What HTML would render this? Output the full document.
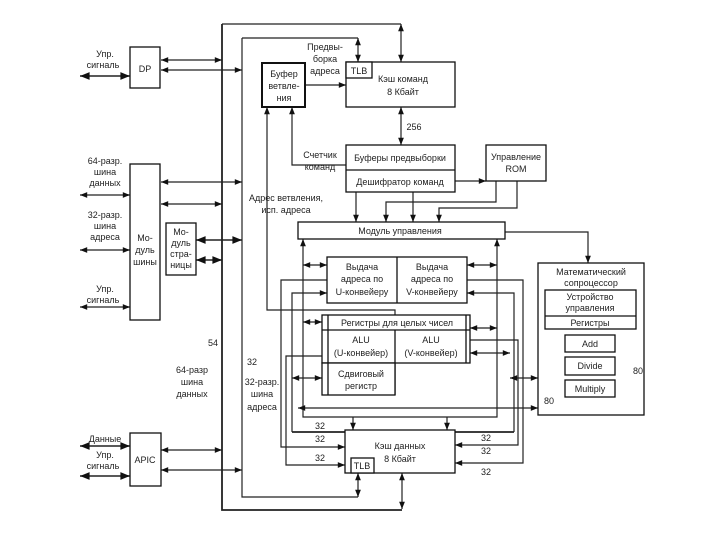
<!DOCTYPE html>
<html><head><meta charset="utf-8"><style>
html,body{margin:0;padding:0;background:#fff}
svg{display:block}
text{font-family:"Liberation Sans",sans-serif;font-size:9px;fill:#222}
</style></head><body>
<svg width="720" height="540" viewBox="0 0 720 540" xmlns="http://www.w3.org/2000/svg">
<defs>
<marker id="a" viewBox="0 0 10 10" refX="10" refY="5" markerWidth="7" markerHeight="6" orient="auto-start-reverse"><path d="M0,1L10,5L0,9z" fill="#111"/></marker>
</defs>
<g stroke="#222" stroke-width="1.2" fill="none">
<path d="M222,24V510H402" stroke-width="1.8"/>
<path d="M222,24H401"/>
<path d="M242,38V497H358"/>
<path d="M242,38H358"/>
<path d="M401,24V62" marker-start="url(#a)" marker-end="url(#a)"/>
<path d="M358,38V62" marker-start="url(#a)" marker-end="url(#a)"/>
<path d="M402,509V473" marker-end="url(#a)" marker-start="url(#a)"/>
<path d="M358,497V473" marker-end="url(#a)" marker-start="url(#a)"/>
<path d="M161,60H222" marker-start="url(#a)" marker-end="url(#a)"/>
<path d="M161,70H242" marker-start="url(#a)" marker-end="url(#a)"/>
<path d="M161,182H242" marker-start="url(#a)" marker-end="url(#a)"/>
<path d="M161,204H222" marker-start="url(#a)" marker-end="url(#a)"/>
<path d="M196,240H242" marker-start="url(#a)" marker-end="url(#a)" stroke-width="1.6"/>
<path d="M196,260H222" marker-start="url(#a)" marker-end="url(#a)" stroke-width="1.6"/>
<path d="M161,450H222" marker-start="url(#a)" marker-end="url(#a)"/>
<path d="M161,470H242" marker-start="url(#a)" marker-end="url(#a)"/>
<path d="M80,76H130" marker-start="url(#a)" marker-end="url(#a)" stroke-width="1.6"/>
<path d="M80,195H130" marker-start="url(#a)" marker-end="url(#a)"/>
<path d="M80,250H130" marker-start="url(#a)" marker-end="url(#a)"/>
<path d="M80,307H130" marker-start="url(#a)" marker-end="url(#a)"/>
<path d="M80,446H130" marker-start="url(#a)" marker-end="url(#a)" stroke-width="1.6"/>
<path d="M80,476H130" marker-start="url(#a)" marker-end="url(#a)" stroke-width="1.6"/>
<path d="M305,85H346" marker-end="url(#a)"/>
<path d="M401,107V145" marker-start="url(#a)" marker-end="url(#a)"/>
<path d="M346,165H292V107" marker-end="url(#a)"/>
<path d="M267,107V310H395V315" marker-start="url(#a)"/>
<path d="M455,181H486" marker-end="url(#a)"/>
<path d="M356,192V222" marker-end="url(#a)"/>
<path d="M413,192V222" marker-end="url(#a)"/>
<path d="M496,181V202H386V222" marker-end="url(#a)"/>
<path d="M517,181V208H439V222" marker-end="url(#a)"/>
<path d="M505,232H588V263" marker-end="url(#a)"/>
<path d="M303,239V417H497V239" marker-start="url(#a)" marker-end="url(#a)"/>
<path d="M353,417V430" marker-end="url(#a)"/>
<path d="M447,417V430" marker-end="url(#a)"/>
<path d="M303,265H327" marker-start="url(#a)" marker-end="url(#a)"/>
<path d="M467,265H497" marker-start="url(#a)" marker-end="url(#a)"/>
<path d="M303,322H322" marker-start="url(#a)" marker-end="url(#a)"/>
<path d="M470,328H497" marker-start="url(#a)" marker-end="url(#a)"/>
<path d="M327,280H281V447H345" marker-end="url(#a)"/>
<path d="M327,293H292V432" marker-start="url(#a)"/>
<path d="M292,432H345" stroke-width="1.8"/>
<path d="M322,356H286V465H345" marker-end="url(#a)"/>
<path d="M292,378H322" marker-start="url(#a)" marker-end="url(#a)"/>
<path d="M298,408H538" marker-start="url(#a)" marker-end="url(#a)"/>
<path d="M467,280H523V463H455" marker-end="url(#a)"/>
<path d="M467,293H514V432" marker-start="url(#a)"/>
<path d="M514,432H455" stroke-width="1.8"/>
<path d="M470,340H518V445H455" marker-end="url(#a)"/>
<path d="M470,353H510" marker-start="url(#a)" marker-end="url(#a)"/>
<path d="M510,378H538" marker-start="url(#a)" marker-end="url(#a)"/>
<path d="M549,329V393H565M553,329V387H565M553,341H565M553,350H565M553,364H565M553,369H565M553,381H565"/>
<path d="M549,341H565M549,347H565" marker-end="url(#a)"/>
<path d="M549,362H565M549,370H565M549,382H565M549,387H565" marker-end="url(#a)"/>
<path d="M615,344H628M615,366H628M615,389H628" marker-end="url(#a)"/>
<path d="M630,405V329" marker-end="url(#a)"/>
</g>
<g stroke="#111" stroke-width="1.3" fill="#fff">
<rect x="130" y="47" width="30" height="41"/>
<rect x="130" y="164" width="30" height="156"/>
<rect x="166" y="223" width="30" height="52"/>
<rect x="130" y="433" width="31" height="53"/>
<rect x="262" y="63" width="43" height="44" stroke-width="2"/>
<rect x="346" y="62" width="109" height="45"/>
<rect x="346" y="62" width="26" height="16"/>
<rect x="346" y="145" width="109" height="47"/>
<line x1="346" y1="170" x2="455" y2="170"/>
<rect x="486" y="145" width="60" height="36"/>
<rect x="298" y="222" width="207" height="17"/>
<rect x="327" y="257" width="140" height="46"/>
<line x1="397" y1="257" x2="397" y2="303"/>
<rect x="322" y="315" width="148" height="48"/>
<line x1="322" y1="330" x2="470" y2="330"/>
<line x1="395" y1="330" x2="395" y2="395"/>
<rect x="322" y="363" width="73" height="32"/>
<line x1="328" y1="315" x2="328" y2="395"/>
<line x1="466" y1="315" x2="466" y2="363"/>
<rect x="345" y="430" width="110" height="43"/>
<rect x="351" y="458" width="23" height="15"/>
<rect x="538" y="263" width="106" height="152"/>
<rect x="545" y="290" width="91" height="39"/>
<line x1="545" y1="316" x2="636" y2="316"/>
<rect x="565" y="335" width="50" height="17"/>
<rect x="565" y="357" width="50" height="18"/>
<rect x="565" y="380" width="50" height="17"/>
</g>
<g text-anchor="middle">
<text x="105" y="57">Упр.</text><text x="103" y="68">сигналь</text>
<text x="145" y="72">DP</text>
<text x="105" y="164">64-разр.</text><text x="105" y="175">шина</text><text x="105" y="186">данных</text>
<text x="105" y="218">32-разр.</text><text x="105" y="229">шина</text><text x="105" y="240">адреса</text>
<text x="145" y="241">Мо-</text><text x="145" y="253">дуль</text><text x="145" y="265">шины</text>
<text x="181" y="235">Мо-</text><text x="181" y="246">дуль</text><text x="181" y="257">стра-</text><text x="181" y="268">ницы</text>
<text x="105" y="292">Упр.</text><text x="103" y="303">сигналь</text>
<text x="105" y="442">Данные</text>
<text x="105" y="458">Упр.</text><text x="103" y="469">сигналь</text>
<text x="145" y="463">APIC</text>
<text x="213" y="346">54</text><text x="252" y="365">32</text>
<text x="192" y="373">64-разр</text><text x="192" y="385">шина</text><text x="192" y="397">данных</text>
<text x="262" y="385">32-разр.</text><text x="262" y="397">шина</text><text x="262" y="410">адреса</text>
<text x="325" y="50">Предвы-</text><text x="325" y="62">борка</text><text x="325" y="74">адреса</text>
<text x="284" y="77">Буфер</text><text x="284" y="89">ветвле-</text><text x="284" y="101">ния</text>
<text x="359" y="74">TLB</text>
<text x="403" y="82">Кэш команд</text><text x="403" y="95">8 Кбайт</text>
<text x="414" y="130">256</text>
<text x="320" y="158">Счетчик</text><text x="320" y="170">команд</text>
<text x="400" y="161">Буферы предвыборки</text>
<text x="400" y="185">Дешифратор команд</text>
<text x="516" y="160">Управление</text><text x="516" y="172">ROM</text>
<text x="286" y="201">Адрес ветвления,</text><text x="286" y="213">исп. адреса</text>
<text x="400" y="234">Модуль управления</text>
<text x="362" y="270">Выдача</text><text x="362" y="282">адреса по</text><text x="362" y="295">U-конвейеру</text>
<text x="432" y="270">Выдача</text><text x="432" y="282">адреса по</text><text x="432" y="295">V-конвейеру</text>
<text x="397" y="326">Регистры для целых чисел</text>
<text x="361" y="343">ALU</text><text x="361" y="356">(U-конвейер)</text>
<text x="431" y="343">ALU</text><text x="431" y="356">(V-конвейер)</text>
<text x="361" y="377">Сдвиговый</text><text x="361" y="389">регистр</text>
<text x="400" y="449">Кэш данных</text><text x="400" y="462">8 Кбайт</text>
<text x="362" y="469">TLB</text>
<text x="320" y="429">32</text><text x="320" y="442">32</text><text x="320" y="461">32</text>
<text x="486" y="441">32</text><text x="486" y="454">32</text><text x="486" y="475">32</text>
<text x="591" y="275">Математический</text><text x="591" y="286">сопроцессор</text>
<text x="590" y="300">Устройство</text><text x="590" y="311">управления</text>
<text x="590" y="326">Регистры</text>
<text x="590" y="347">Add</text><text x="590" y="369">Divide</text><text x="590" y="392">Multiply</text>
<text x="638" y="374">80</text><text x="549" y="404">80</text>
</g>
</svg>
</body></html>
